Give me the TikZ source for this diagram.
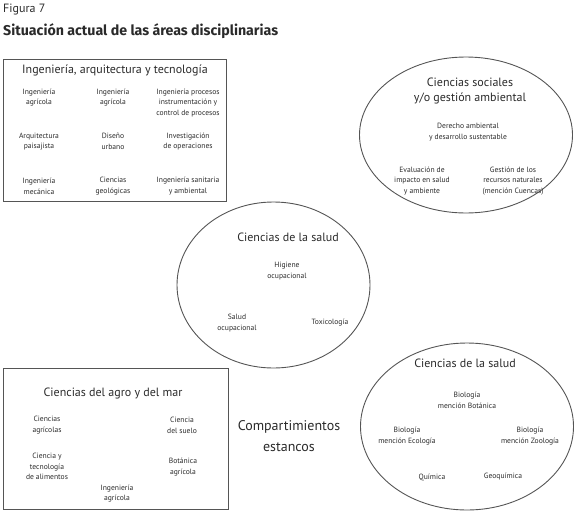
\documentclass[tikz,border=0pt]{standalone}
\usepackage{fontspec}
\setmainfont{PT Sans}
\newfontfamily\titlefont{Fira Sans}
\usetikzlibrary{shapes.geometric}
\definecolor{ink}{HTML}{2A2A2A}
\definecolor{edge}{HTML}{555555}
\tikzset{
  frame/.style={draw=edge, line width=0.9pt, rectangle, inner sep=0pt},
  oval/.style={draw=edge, line width=0.9pt, ellipse, inner sep=0pt},
  head/.style={text=ink, font=\fontsize{12}{15}\selectfont, align=center, inner sep=0pt},
  item/.style={text=ink, font=\fontsize{7.6}{10.8}\selectfont, align=center, inner sep=0pt},
  big/.style={text=ink, font=\fontsize{14}{21}\selectfont, align=center, inner sep=0pt},
}
\begin{document}
\begin{tikzpicture}[x=1pt,y=-1pt]
\useasboundingbox (0,0) rectangle (575,517);
% titles
\node[anchor=west, text=ink, inner sep=0pt, font=\fontsize{12}{14}\selectfont] (fig) at (3,10) {Figura 7};
\node[anchor=west, text=ink, inner sep=0pt, font=\titlefont\bfseries\fontsize{14.2}{16}\selectfont] (tit) at (3,31) {Situación actual de las áreas disciplinarias};

% top-left box
\node[frame, minimum width=223pt, minimum height=142pt] (boxA) at (114.5,130) {};
\node[head] (hA) at (115,70) {Ingeniería, arquitectura y tecnología};
\node[item] (a1) at (39,97.5) {Ingeniería\\agrícola};
\node[item] (a2) at (113,97.5) {Ingeniería\\agrícola};
\node[item] (a3) at (188,103) {Ingeniería procesos\\instrumentación y\\control de procesos};
\node[item] (a4) at (39,141.5) {Arquitectura\\paisajista};
\node[item] (a5) at (113,141.5) {Diseño\\urbano};
\node[item] (a6) at (188,141.5) {Investigación\\de operaciones};
\node[item] (a7) at (39,186) {Ingeniería\\mecánica};
\node[item] (a8) at (113,186) {Ciencias\\geológicas};
\node[item] (a9) at (188,186) {Ingeniería sanitaria\\y ambiental};

% top-right ellipse
\node[oval, minimum width=213pt, minimum height=156pt] (elB) at (466,135) {};
\node[head] (hB) at (470,90.5) {Ciencias sociales\\y/o gestión ambiental};
\node[item] (b1) at (468,132) {Derecho ambiental\\y desarrollo sustentable};
\node[item] (b2) at (422,181) {Evaluación de\\impacto en salud\\y ambiente};
\node[item] (b3) at (513,181) {Gestión de los\\recursos naturales\\(mención Cuencas)};

% middle ellipse
\node[oval, minimum width=193pt, minimum height=166pt] (elC) at (273.5,285) {};
\node[head] (hC) at (288,237) {Ciencias de la salud};
\node[item] (c1) at (287,271) {Higiene\\ocupacional};
\node[item] (c2) at (237,323) {Salud\\ocupacional};
\node[item] (c3) at (330,323) {Toxicología};

% bottom-left box
\node[frame, minimum width=225pt, minimum height=141pt] (boxD) at (115.5,438.5) {};
\node[head] (hD) at (113,393) {Ciencias del agro y del mar};
\node[item] (d1) at (47,425) {Ciencias\\agrícolas};
\node[item] (d2) at (182,425) {Ciencia\\del suelo};
\node[item] (d3) at (47,466.5) {Ciencia y\\tecnología\\de alimentos};
\node[item] (d4) at (183,467) {Botánica\\agrícola};
\node[item] (d5) at (117,493.5) {Ingeniería\\agrícola};

% bottom-right ellipse
\node[oval, minimum width=213pt, minimum height=167pt] (elE) at (467,426.5) {};
\node[head] (hE) at (465,363) {Ciencias de la salud};
\node[item] (e1) at (467,400.5) {Biología\\mención Botánica};
\node[item] (e2) at (407,436) {Biología\\mención Ecología};
\node[item] (e3) at (530,436) {Biología\\mención Zoología};
\node[item] (e4) at (432,477) {Química};
\node[item] (e5) at (503,477) {Geoquímica};

% free label
\node[big] (comp) at (289,436.5) {Compartimientos\\estancos};
\end{tikzpicture}
\end{document}
